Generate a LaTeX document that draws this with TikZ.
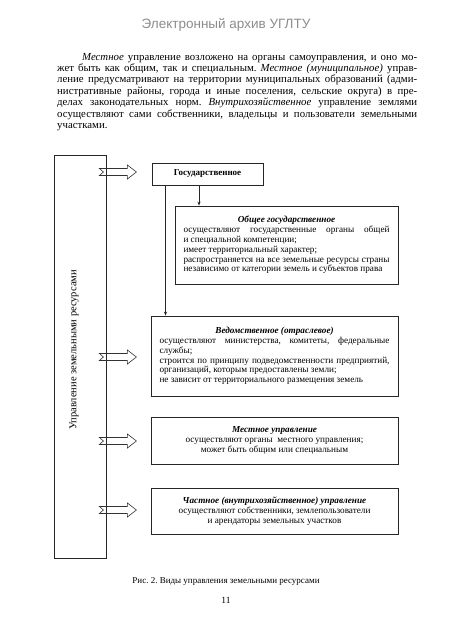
\documentclass[tikz,border=0pt]{standalone}
\usepackage{fontspec}
\setmainfont{Liberation Serif}
\newfontfamily\hdrfont{Liberation Sans}
\usetikzlibrary{arrows.meta,calc}
\frenchspacing
\begin{document}
\begin{tikzpicture}[x=1pt,y=-1pt,
  box/.style={draw=black!85, line width=0.8pt, inner sep=0pt},
  boxtxt/.style={font=\fontsize{9.2}{9.8}\selectfont},
  parline/.style={anchor=base west, inner sep=0pt, font=\fontsize{10.8}{11.4}\selectfont},
  blockarrow/.style={draw=black!80, line width=0.6pt},
  conn/.style={draw=black!85, line width=0.7pt, -{Stealth[length=4pt,width=3.2pt]}},
  barrow/.pic={\path[blockarrow] (-18.5,-3.5) -- (9.5,-3.5) -- (9.5,-7) -- (18.5,0) -- (9.5,7) -- (9.5,3.5) -- (-18.5,3.5) -- (-14.5,0) -- cycle;}
]
\useasboundingbox (0,0) rectangle (452,640);
% header
\node[text=black!45, font=\hdrfont\fontsize{13.5}{15}\selectfont] (hdr) at (226,25) {Электронный архив УГЛТУ};
% paragraph
\node[parline] (p1) at (82,60) {\makebox[335pt][s]{\textit{Местное} управление возложено на органы самоуправления, и оно мо-}};
\node[parline] (p2) at (57,71.4) {\makebox[360pt][s]{жет быть как общим, так и специальным. \textit{Местное (муниципальное)} управ-}};
\node[parline] (p3) at (57,82.8) {\makebox[360pt][s]{ление предусматривают на территории муниципальных образований (адми-}};
\node[parline] (p4) at (57,94.2) {\makebox[360pt][s]{нистративные районы, города и иные поселения, сельские округа) в пре-}};
\node[parline] (p5) at (57,105.6) {\makebox[360pt][s]{делах законодательных норм. \textit{Внутрихозяйственное} управление землями}};
\node[parline] (p6) at (57,117) {\makebox[360pt][s]{осуществляют сами собственники, владельцы и пользователи земельными}};
\node[parline] (p7) at (57,128.4) {участками.};
% left box
\node[box, minimum width=52, minimum height=403] (left) at (80,356.5) {};
\node[rotate=90, font=\fontsize{10.5}{12}\selectfont] (leftlbl) at (74,350) {Управление земельными ресурсами};
% boxes
\node[box, minimum width=111, minimum height=22, font=\fontsize{9}{10}\selectfont\bfseries] (gos) at (207.5,174) {Государственное};
\node[box, minimum width=223, minimum height=78, boxtxt] (obsh) at (286.5,245) {\parbox{206pt}{\fontsize{9.2}{9.8}\selectfont
\makebox[206pt]{\bfseries\itshape Общее государственное}\\
\makebox[206pt][s]{осуществляют государственные органы общей}\\
и специальной компетенции;\\
имеет территориальный характер;\\
\makebox[206pt][s]{распространяется на все земельные ресурсы страны}\\
независимо от категории земель и субъектов права}};
\node[box, minimum width=247, minimum height=80, boxtxt] (ved) at (274.5,356) {\parbox{230pt}{\fontsize{9.2}{9.8}\selectfont
\makebox[230pt]{\bfseries\itshape Ведомственное (отраслевое)}\\
\makebox[230pt][s]{осуществляют министерства, комитеты, федеральные}\\
службы;\\
\makebox[230pt][s]{строится по принципу подведомственности предприятий,}\\
организаций, которым предоставлены земли;\\
не зависит от территориального размещения земель}};
\node[box, minimum width=247, minimum height=47, boxtxt, align=center] (mest) at (274.5,440.5) {{\bfseries\itshape Местное управление}\\
осуществляют органы\ \ местного управления;\\
может быть общим или специальным};
\node[box, minimum width=247, minimum height=46, boxtxt, align=center] (chast) at (274.5,511) {{\bfseries\itshape Частное (внутрихозяйственное) управление}\\
осуществляют собственники, землепользователи\\
и арендаторы земельных участков};
% connectors
\coordinate (ga) at (199,0);
\coordinate (gb) at (165.5,0);
\draw[conn] (gos.south -| ga) -- (obsh.north -| ga);
\draw[conn] (gos.south -| gb) -- (ved.north -| gb);
% block arrows
\pic at ($(left.east |- gos.west)+(11.5,-2)$) {barrow};
\pic at ($(left.east |- ved.west)+(11.5,1)$) {barrow};
\pic at ($(left.east |- mest.west)+(11.5,0.5)$) {barrow};
\pic at ($(left.east |- chast.west)+(11.5,-1)$) {barrow};
% caption
\node[font=\fontsize{9}{11}\selectfont] (cap) at (226,581) {Рис. 2. Виды управления земельными ресурсами};
\node[font=\fontsize{9.5}{11}\selectfont] (pg) at (226,600) {11};
\end{tikzpicture}
\end{document}
